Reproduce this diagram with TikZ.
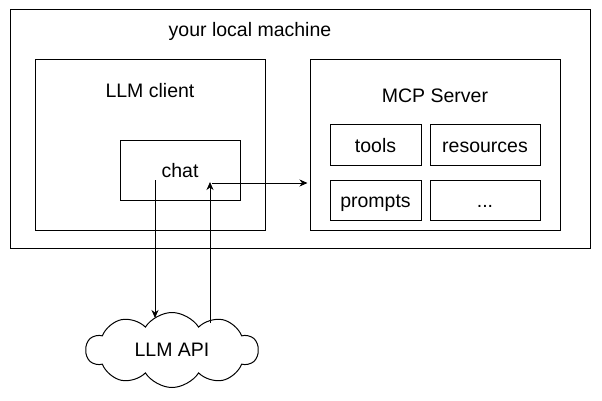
\documentclass[tikz,border=0pt]{standalone}
\usepackage{fontspec}
\setmainfont{Liberation Sans}
\usetikzlibrary{shapes.symbols,arrows.meta}
\begin{document}
\begin{tikzpicture}[x=1pt,y=-1pt,
  box/.style={draw=black,line width=1pt,rectangle,minimum width=#1,inner sep=0pt},
  lbl/.style={font=\fontsize{19.5}{21}\selectfont,inner sep=0pt},
  inbox/.style={lbl,draw,line width=1pt,text height=16pt,text depth=2pt},
  arr/.style={line width=1pt,-{Stealth[length=8pt,width=7pt,inset=2.5pt]}}]
\useasboundingbox (0,0) rectangle (602,401);
\fill[white] (0,0) rectangle (602,401);
\node[box=580pt,minimum height=238pt] (machine) at (300,129) {};
\node[lbl] (machinelbl) at (250,31) {your local machine};
\node[box=230pt,minimum height=170pt] (client) at (150,145) {};
\node[lbl] (clientlbl) at (150,91) {LLM client};
\node[box=120pt,minimum height=60pt,inbox] (chat) at (180,170) {chat};
\node[box=250pt,minimum height=170pt] (server) at (435,145) {};
\node[lbl] (serverlbl) at (435,96) {MCP Server};
\node[box=91pt,minimum height=40pt,inbox] (tools) at (375.5,145) {tools};
\node[box=110pt,minimum height=40pt,inbox] (resources) at (485,145) {resources};
\node[box=91pt,minimum height=40pt,inbox] (prompts) at (375.5,200) {prompts};
\node[box=110pt,minimum height=40pt,inbox] (more) at (485,200) {...};
\node[cloud,cloud puffs=10,cloud puff arc=115,aspect=2.6,draw,line width=1pt,
      minimum width=172pt,minimum height=75pt,inner sep=0pt,lbl] (api) at (172,350) {LLM API};
\coordinate (down1) at (155,180);
\coordinate (down2) at (155,318);
\coordinate (up1) at (210,323);
\coordinate (up2) at (210,182);
\coordinate (side) at (212,183);
\draw[arr] (down1) -- (down2);
\draw[arr] (up1) -- (up2);
\draw[arr,shorten >=2pt] (side) -- (side -| server.west);
\end{tikzpicture}
\end{document}
